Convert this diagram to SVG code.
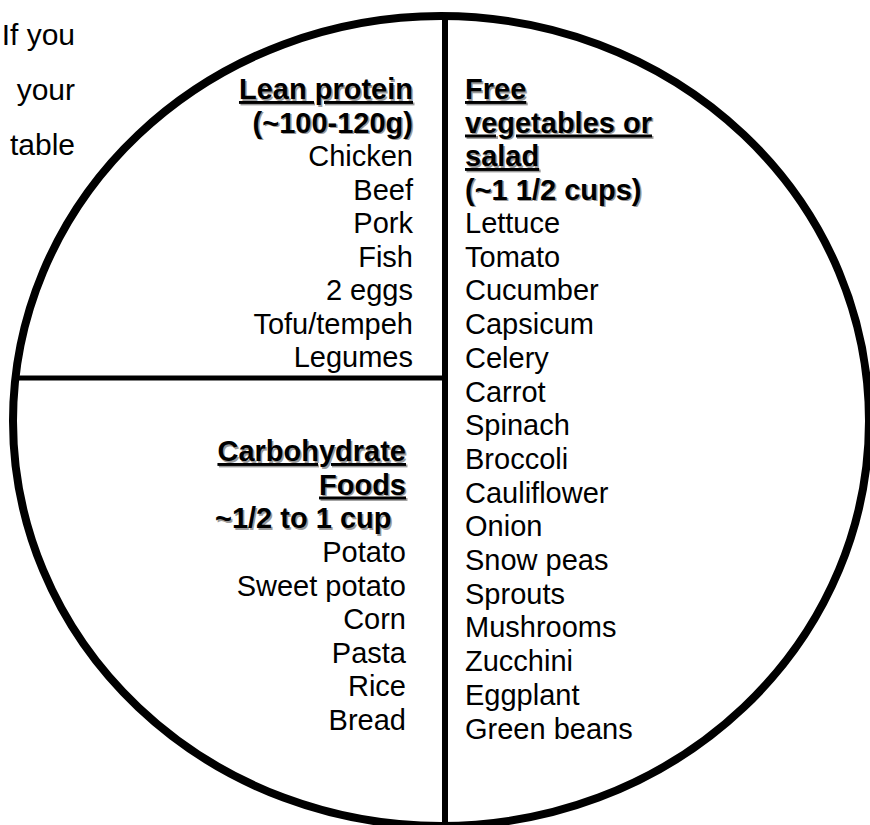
<svg xmlns="http://www.w3.org/2000/svg" width="870" height="825" viewBox="0 0 870 825">
<style>
text{font-family:"Liberation Sans",Arial,sans-serif;font-size:29px;fill:#000}
.h{font-weight:bold}
.u{text-decoration:underline}
.sh{fill:#9a9a9a}
.r{text-anchor:end}
.line{stroke:#000;fill:none}
</style>
<rect x="0" y="0" width="870" height="825" fill="#fff"/>
<g id="intro">
<text x="75" y="45" class="r" style="font-size:30px">If you</text>
<text x="75" y="100" class="r" style="font-size:30px">your</text>
<text x="75" y="155" class="r" style="font-size:30px">table</text>
</g>
<g id="plate">
<ellipse cx="441" cy="421" rx="428" ry="405" class="line" stroke-width="8"/>
</g>
<g id="connectors">
<line x1="445" y1="17" x2="445" y2="825" class="line" stroke-width="6"/>
<line x1="12" y1="378" x2="445" y2="378" class="line" stroke-width="5"/>
</g>
<g id="protein">
<g transform="translate(1.5,1.5)">
<text x="413" y="99" class="r h u sh">Lean protein</text>
<text x="413" y="132.5" class="r h sh">(~100-120g)</text>
</g>
<text x="413" y="99" class="r h u">Lean protein</text>
<text x="413" y="132.5" class="r h">(~100-120g)</text>
<text x="413" y="166" class="r">Chicken</text>
<text x="413" y="199.5" class="r">Beef</text>
<text x="413" y="233" class="r">Pork</text>
<text x="413" y="266.5" class="r">Fish</text>
<text x="413" y="300" class="r">2 eggs</text>
<text x="413" y="333.5" class="r">Tofu/tempeh</text>
<text x="413" y="367" class="r">Legumes</text>
</g>
<g id="vegetables">
<g transform="translate(1.5,1.5)">
<text x="465" y="99" class="h u sh">Free</text>
<text x="465" y="132.5" class="h u sh">vegetables or</text>
<text x="465" y="166" class="h u sh">salad</text>
<text x="465" y="199.5" class="h sh">(~1 1/2 cups)</text>
</g>
<text x="465" y="99" class="h u">Free</text>
<text x="465" y="132.5" class="h u">vegetables or</text>
<text x="465" y="166" class="h u">salad</text>
<text x="465" y="199.5" class="h">(~1 1/2 cups)</text>
<text x="465" y="233">Lettuce</text>
<text x="465" y="266.7">Tomato</text>
<text x="465" y="300.4">Cucumber</text>
<text x="465" y="334.1">Capsicum</text>
<text x="465" y="367.8">Celery</text>
<text x="465" y="401.5">Carrot</text>
<text x="465" y="435.2">Spinach</text>
<text x="465" y="468.9">Broccoli</text>
<text x="465" y="502.6">Cauliflower</text>
<text x="465" y="536.3">Onion</text>
<text x="465" y="570">Snow peas</text>
<text x="465" y="603.7">Sprouts</text>
<text x="465" y="637.4">Mushrooms</text>
<text x="465" y="671.1">Zucchini</text>
<text x="465" y="704.8">Eggplant</text>
<text x="465" y="738.5">Green beans</text>
</g>
<g id="carbohydrate">
<g transform="translate(1.5,1.5)">
<text x="406" y="461" class="r h u sh">Carbohydrate</text>
<text x="406" y="494.5" class="r h u sh">Foods</text>
<text x="215" y="528" class="h sh">~1/2 to 1 cup</text>
</g>
<text x="406" y="461" class="r h u">Carbohydrate</text>
<text x="406" y="494.5" class="r h u">Foods</text>
<text x="215" y="528" class="h">~1/2 to 1 cup</text>
<text x="406" y="562" class="r">Potato</text>
<text x="406" y="595.5" class="r">Sweet potato</text>
<text x="406" y="629" class="r">Corn</text>
<text x="406" y="662.5" class="r">Pasta</text>
<text x="406" y="696" class="r">Rice</text>
<text x="406" y="729.5" class="r">Bread</text>
</g>
</svg>
